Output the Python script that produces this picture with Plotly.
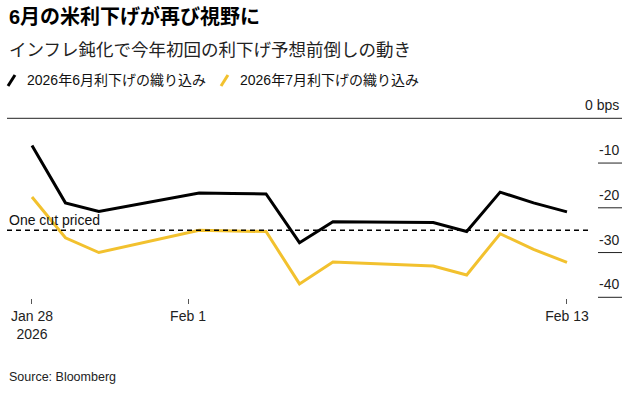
import plotly.graph_objects as go

# ---- data ----
dates = ["2026-01-28", "2026-01-29", "2026-01-30", "2026-02-02", "2026-02-03",
         "2026-02-04", "2026-02-05", "2026-02-06", "2026-02-09", "2026-02-10",
         "2026-02-11", "2026-02-12", "2026-02-13"]
june_cut = [-6.1, -18.9, -20.8, -16.7, -16.8, -16.9, -27.8, -23.1, -23.3, -25.3, -16.5, -18.9, -20.9]
july_cut = [-17.6, -26.7, -30.0, -25.0, -25.2, -25.3, -37.0, -32.1, -33.0, -35.0, -25.8, -29.3, -32.2]
series_names = ["2026年6月利下げの織り込み", "2026年7月利下げの織り込み"]
series_colors = ["#000000", "#F2C12E"]

one_cut_level = -25
one_cut_label = "One cut priced"
y_ticks = [0, -10, -20, -30, -40]
y_tick_text = ["0 bps", "-10", "-20", "-30", "-40"]
x_tickvals = ["2026-01-28", "2026-02-01 16:00", "2026-02-13"]
x_ticktext = ["Jan 28<br>2026", "Feb 1", "Feb 13"]

title = "6月の米利下げが再び視野に"
subtitle = "インフレ鈍化で今年初回の利下げ予想前倒しの動き"
source = "Source: Bloomberg"

FONT = "Liberation Sans, Arial, 'Noto Sans CJK JP', sans-serif"

fig = go.Figure()
for vals, name, col in zip([june_cut, july_cut], series_names, series_colors):
    fig.add_trace(go.Scatter(x=dates, y=vals, mode="lines", name=name,
                             line=dict(color=col, width=3), hoverinfo="skip"))

shapes = []
annotations = []

# zero line across full width, short gridlines at right for others
for v, t in zip(y_ticks, y_tick_text):
    shapes.append(dict(type="line", xref="paper", yref="y",
                       x0=0 if v == 0 else 0.961, x1=1, y0=v, y1=v,
                       line=dict(color="#222222", width=1), layer="below"))
    annotations.append(dict(x=1, y=v, xref="paper", yref="y", text=t,
                            showarrow=False, xanchor="right", yanchor="bottom",
                            xshift=-1, yshift=3,
                            font=dict(size=14, color="#222222", family=FONT)))

# one cut priced line
shapes.append(dict(type="line", xref="paper", yref="y", x0=0, x1=0.948,
                   y0=one_cut_level, y1=one_cut_level,
                   line=dict(color="#000000", width=1.5, dash="5px,4px")))
annotations.append(dict(x=0, y=one_cut_level, xref="paper", yref="y",
                        text=one_cut_label, showarrow=False, xanchor="left",
                        yanchor="bottom", yshift=0,
                        font=dict(size=14, color="#111111", family=FONT)))

# manual legend
legend_pos = [(0.0016, 0.013, 0.0293), (0.348, 0.3593, 0.3756)]
for (ix0, ix1, tx), name, col in zip(legend_pos, series_names, series_colors):
    shapes.append(dict(type="line", xref="paper", yref="paper",
                       x0=ix0, x1=ix1, y0=1.1277, y1=1.1862,
                       line=dict(color=col, width=3)))
    annotations.append(dict(x=tx, y=1.1596, xref="paper", yref="paper",
                            text=name, showarrow=False, xanchor="left",
                            yanchor="middle",
                            font=dict(size=14, color="#111111", family=FONT)))

# titles and source
annotations.append(dict(x=0, y=1.4947, xref="paper", yref="paper",
                        text="<b>" + title + "</b>", showarrow=False,
                        xanchor="left", yanchor="middle",
                        font=dict(size=20, color="#000000", family=FONT)))
annotations.append(dict(x=0, y=1.3191, xref="paper", yref="paper",
                        text=subtitle, showarrow=False,
                        xanchor="left", yanchor="middle",
                        font=dict(size=17.5, color="#222222", family=FONT)))
annotations.append(dict(x=0, y=-0.4202, xref="paper", yref="paper",
                        text=source, showarrow=False,
                        xanchor="left", yanchor="middle",
                        font=dict(size=12.5, color="#222222", family=FONT)))

fig.update_layout(
    width=642, height=395,
    margin=dict(l=7, r=20, t=110, b=97),
    paper_bgcolor="white", plot_bgcolor="white",
    showlegend=False, hovermode=False,
    shapes=shapes, annotations=annotations,
    font=dict(family=FONT, size=14, color="#222222"),
    xaxis=dict(type="date", range=["2026-01-27 06:04", "2026-02-14 15:29"],
               tickvals=x_tickvals, ticktext=x_ticktext,
               ticks="outside", ticklen=5, tickcolor="#555555", tickwidth=1,
               showgrid=False, zeroline=False, showline=False, fixedrange=True,
               tickfont=dict(size=14, color="#222222", family=FONT)),
    yaxis=dict(range=[-40.156, 1.855], showgrid=False, zeroline=False,
               showticklabels=False, showline=False, fixedrange=True),
)

fig.write_html("out.html", config={"displayModeBar": False, "staticPlot": True},
               post_script="document.body.style.margin='0px';")
